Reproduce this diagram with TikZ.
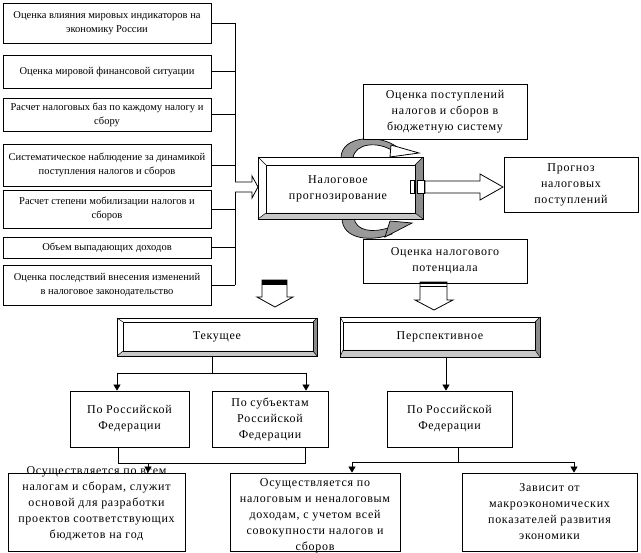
\documentclass[tikz,border=0pt]{standalone}
\usepackage{fontspec}
\setmainfont{Liberation Serif}
\newfontfamily\spf[LetterSpace=6]{Liberation Serif}
\usetikzlibrary{arrows.meta}
\begin{document}
\begin{tikzpicture}[x=1pt,y=-1pt,
  lbox/.style={draw, line width=0.8pt, inner sep=0pt, align=center, font=\fontsize{10.5}{14}\selectfont},
  pbox/.style={draw, line width=0.8pt, inner sep=0pt, align=center, fill=white, font=\spf\fontsize{12}{16}\selectfont},
  txt/.style={inner sep=0pt, align=center, font=\spf\fontsize{12}{16}\selectfont},
  conn/.style={line width=0.8pt},
  arr/.style={line width=0.8pt, -{Triangle[width=7pt,length=6pt]}},
  blk/.style={draw, line width=0.8pt, fill=white, line join=miter},
  bevR/.style={fill=black!45},
  bevB/.style={fill=black!22},
  curv/.style={draw, line width=0.7pt, fill=black!40},
  thinl/.style={line width=0.5pt}
]
\useasboundingbox (0,0) rectangle (641,553);

% left column
\node[lbox, minimum width=208pt, minimum height=40pt] (L1) at (107,23) {Оценка влияния мировых индикаторов на\\экономику России};
\node[lbox, minimum width=208pt, minimum height=33pt] (L2) at (107,71.5) {Оценка мировой финансовой ситуации};
\node[lbox, minimum width=208pt, minimum height=33pt] (L3) at (107,114.5) {Расчет налоговых баз по каждому налогу и\\сбору};
\node[lbox, minimum width=208pt, minimum height=42pt] (L4) at (107,165) {Систематическое наблюдение за динамикой\\поступления налогов и сборов};
\node[lbox, minimum width=208pt, minimum height=38pt] (L5) at (107,209) {Расчет степени мобилизации налогов и\\сборов};
\node[lbox, minimum width=208pt, minimum height=21pt] (L6) at (107,247.5) {Объем выпадающих доходов};
\node[lbox, minimum width=208pt, minimum height=40pt] (L7) at (107,285) {Оценка последствий внесения изменений\\в налоговое законодательство};

\coordinate (bus) at (235,0);
\foreach \n in {L1,L2,L3,L4,L5,L6,L7} \draw[conn] (\n.east) -- (\n.east -| bus);
\draw[conn] (L1.east -| bus) -- (L7.east -| bus);

% block arrow bus -> main
\draw[blk] (235,182) -- (252,182) -- (252,176) -- (258,187) -- (252,198) -- (252,192) -- (235,192);

% curved arrows
\draw[curv] (341,158) .. controls (341,135) and (380,134) .. (397,147) -- (393,151) .. controls (378,141) and (355,143) .. (353,158) -- cycle;
\draw[blk] (391,145) -- (419,153) -- (390,157) -- cycle;
\draw[curv] (342,218) .. controls (342,240) and (372,242) .. (392,234) -- (388,228) .. controls (372,233) and (356,231) .. (354,218) -- cycle;
\draw[curv] (385,237) -- (390,221) -- (412,223) -- cycle;

% main bevel box
\fill[white] (258,157) rectangle (423,219);
\fill[bevR] (423,157) -- (423,219) -- (415,213) -- (415,165) -- cycle;
\fill[bevB] (258,219) -- (423,219) -- (415,213) -- (266,213) -- cycle;
\draw[conn] (258,157) rectangle (423,219);
\draw[conn] (266,165) rectangle (415,213);
\draw[thinl] (258,157) -- (266,165) (423,157) -- (415,165) (258,219) -- (266,213) (423,219) -- (415,213);
\node[txt, minimum width=165pt, minimum height=62pt] (M) at (338,189) {Налоговое\\прогнозирование};

% small rects and right block arrow
\draw[blk] (410,180) rectangle (414,193);
\draw[blk] (417,180) rectangle (424,193);
\draw[blk] (425,181) -- (480,181) -- (480,174) -- (503,187) -- (480,200) -- (480,193) -- (425,193) -- cycle;

\node[pbox, minimum width=164pt, minimum height=55pt] (T) at (445,111.5) {Оценка поступлений\\налогов и сборов в\\бюджетную систему};
\node[pbox, minimum width=164pt, minimum height=44pt] (P) at (445,261) {Оценка налогового\\потенциала};
\node[pbox, minimum width=134pt, minimum height=55pt] (R) at (571,184.5) {Прогноз\\налоговых\\поступлений};

% down block arrows
\draw[blk] (262,280) -- (287,280) -- (287,297) -- (293,297) -- (275,307) -- (257,297) -- (262,297) -- cycle;
\fill[black] (262,280) rectangle (287,285);
\draw[blk] (420,282) -- (447,282) -- (447,300) -- (453,300) -- (434,310) -- (415,300) -- (420,300) -- cycle;
\fill[black] (420,282) rectangle (447,284);
\draw[conn] (420,286.5) -- (447,286.5);

% Текущее
\fill[white] (117,318) rectangle (317,356);
\fill[bevR] (317,318) -- (317,356) -- (313,351) -- (313,322) -- cycle;
\fill[bevB] (117,356) -- (317,356) -- (313,351) -- (123,351) -- cycle;
\draw[conn] (117,318) rectangle (317,356);
\draw[conn] (123,322) rectangle (313,351);
\draw[thinl] (117,318) -- (123,322) (317,318) -- (313,322) (117,356) -- (123,351) (317,356) -- (313,351);
\node[txt, minimum width=200pt, minimum height=38pt] (Cur) at (217,337) {Текущее};

% Перспективное
\fill[white] (340,317) rectangle (540,357);
\fill[bevR] (540,317) -- (540,357) -- (535,350) -- (535,322) -- cycle;
\fill[bevB] (340,357) -- (540,357) -- (535,350) -- (343,350) -- cycle;
\draw[conn] (340,317) rectangle (540,357);
\draw[conn] (343,322) rectangle (535,350);
\draw[thinl] (340,317) -- (343,322) (540,317) -- (535,322) (340,357) -- (343,350) (540,357) -- (535,350);
\node[txt, minimum width=200pt, minimum height=40pt] (Per) at (440,337) {Перспективное};

% second level
\node[pbox, minimum width=119pt, minimum height=56pt] (A1) at (129.5,419) {По Российской\\Федерации};
\node[pbox, minimum width=116pt, minimum height=56pt] (A2) at (270,419) {По субъектам\\Российской\\Федерации};
\node[pbox, minimum width=125pt, minimum height=56pt] (A3) at (449.5,419) {По Российской\\Федерации};

\coordinate (c1) at (212,373);
\coordinate (c2) at (117,373);
\coordinate (c3) at (306,373);
\draw[conn] (Cur.south -| c1) -- (c1);
\draw[conn] (c2) -- (c3);
\draw[arr] (c2) -- (c2 |- A1.north);
\draw[arr] (c3) -- (c3 |- A2.north);
\coordinate (c4) at (446,357);
\draw[arr] (c4) -- (c4 |- A3.north);

% third level
\node[pbox, minimum width=177pt, minimum height=78pt] (B1) at (96.5,512) {};
\node[txt] (B1t) at (96.5,504) {Осуществляется по всем\\налогам и сборам, служит\\основой для разработки\\проектов соответствующих\\бюджетов на год};
\node[pbox, minimum width=170pt, minimum height=78pt] (B2) at (315,512) {};
\node[txt] (B2t) at (315,516) {Осуществляется по\\налоговым и неналоговым\\доходам, с учетом всей\\совокупности налогов и\\сборов};
\node[pbox, minimum width=175pt, minimum height=78pt] (B3) at (549.5,512) {Зависит от\\макроэкономических\\показателей развития\\экономики};

\coordinate (d1) at (118,463);
\coordinate (d2) at (305,463);
\coordinate (d3) at (148,463);
\draw[conn] (d1 |- A1.south) -- (d1) -- (d2) -- (d2 |- A2.south);
\draw[arr] (d3) -- (d3 |- B1.north);
\coordinate (e0) at (458,462);
\coordinate (e1) at (352,462);
\coordinate (e2) at (574,462);
\draw[conn] (e0 |- A3.south) -- (e0);
\draw[conn] (e1) -- (e2);
\draw[arr] (e1) -- (e1 |- B2.north);
\draw[arr] (e2) -- (e2 |- B3.north);
\end{tikzpicture}
\end{document}
